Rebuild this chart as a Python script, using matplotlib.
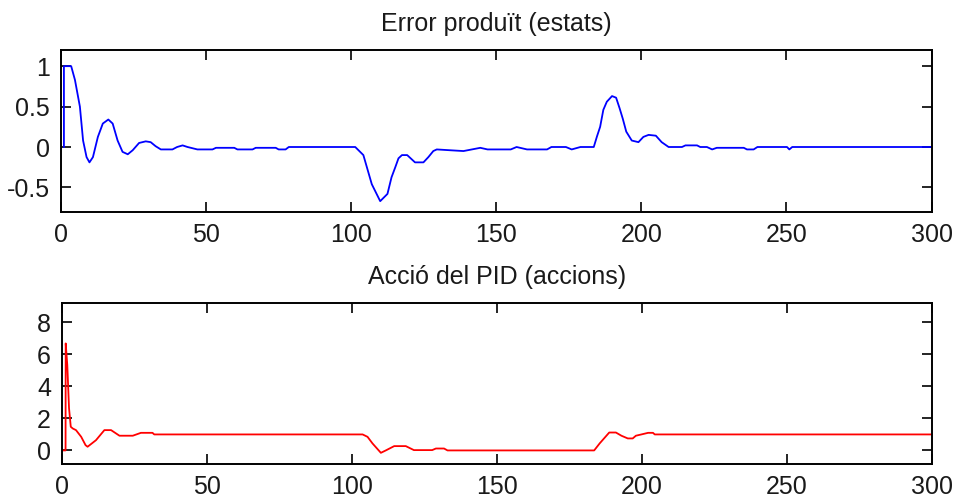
import matplotlib
matplotlib.use("Agg")
import matplotlib.pyplot as plt

plt.rcParams['font.family'] = ['Liberation Sans', 'DejaVu Sans']

# ---- data ----
err_t = [1, 1, 3.5, 4.8, 6.5, 7.6, 8.8, 9.8, 11, 12.7, 14.4, 16.3, 17.8, 19.5, 21.2, 23,
         24.7, 26.9, 29.2, 30.9, 32.6, 34.4, 38.4, 40, 41.9, 43.6, 47, 52.2, 53.4, 59.7,
         60.8, 66, 67.1, 74, 75, 77.4, 78.5, 101.4, 104.2, 107.1, 110, 112.5, 113.9, 115.2,
         116.3, 117.5, 119.3, 120.5, 122, 124.9, 126.6, 128.3, 129.5, 134, 138.7, 144.5,
         147, 155, 157, 160.6, 167.5, 169, 174, 176, 179, 183.6, 184.7, 185.8, 186.9, 188.1,
         189.9, 191.3, 192.5, 193.6, 194.8, 196.7, 199, 200.7, 202.5, 205, 207, 209.4, 214,
         215.2, 219.2, 220.3, 222.6, 224.4, 226, 235.3, 236.4, 238.7, 240, 250.2, 251, 252, 300]
err_v = [0, 1, 1, 0.83, 0.5, 0.08, -0.125, -0.19, -0.125, 0.125, 0.29, 0.34, 0.29, 0.08,
         -0.06, -0.09, -0.04, 0.05, 0.07, 0.06, 0.01, -0.03, -0.03, 0, 0.02, 0, -0.03, -0.03,
         -0.01, -0.01, -0.03, -0.03, -0.01, -0.01, -0.03, -0.03, 0, 0, -0.10, -0.46, -0.67,
         -0.58, -0.375, -0.25, -0.14, -0.10, -0.10, -0.14, -0.19, -0.19, -0.125, -0.05,
         -0.03, -0.04, -0.05, -0.01, -0.03, -0.03, 0, -0.03, -0.03, 0, 0, -0.03, 0, 0, 0.13,
         0.25, 0.46, 0.56, 0.63, 0.61, 0.48, 0.35, 0.19, 0.08, 0.06, 0.125, 0.15, 0.14, 0.06,
         0, 0, 0.02, 0.02, 0, 0, -0.03, -0.01, -0.01, -0.03, -0.03, 0, 0, -0.03, 0, 0]

act_t = [0, 1.2, 1.25, 1.8, 2.4, 3.0, 3.7, 4.8, 6.6, 8.1, 8.8, 11.7, 14.6, 16.9, 19.8, 24.4,
         27.2, 31.2, 31.8, 103.7, 105.4, 107.1, 110, 111.7, 114.6, 118.6, 121.4, 127.7, 129,
         131.8, 133, 183.6, 185.5, 188.8, 191.1, 193, 195.2, 196.9, 198, 199.9, 202.2, 203.9,
         204.5, 300]
act_v = [0, 0, 6.69, 5.34, 2.64, 1.48, 1.37, 1.27, 0.85, 0.33, 0.23, 0.64, 1.27, 1.27, 0.92,
         0.92, 1.1, 1.1, 1.0, 1.0, 0.85, 0.44, -0.15, 0.0, 0.27, 0.27, 0.02, 0.02, 0.12, 0.12,
         0.0, 0.0, 0.44, 1.12, 1.12, 0.92, 0.75, 0.75, 0.92, 1.0, 1.1, 1.1, 1.0, 1.0]

x_ticks = [0, 50, 100, 150, 200, 250, 300]
err_yticks = [-0.5, 0, 0.5, 1]
err_yticklabels = ['-0.5', '0', '0.5', '1']
act_yticks = [0, 2, 4, 6, 8]

titles = ['Error produït (estats)', 'Acció del PID (accions)']

# ---- figure ----
fig = plt.figure(figsize=(9.55, 4.99), dpi=100)
ax1 = fig.add_axes([0.0639, 0.5758, 0.9115, 0.3240])
ax2 = fig.add_axes([0.0650, 0.0701, 0.9104, 0.3221])

ax1.plot(err_t, err_v, color='#0000ff', lw=1.3)
ax2.plot(act_t, act_v, color='#ff0000', lw=1.3)

ax1.set_ylim(-0.8, 1.2)
ax1.set_yticks(err_yticks)
ax1.set_yticklabels(err_yticklabels)
ax2.set_ylim(-0.85, 9.2)
ax2.set_yticks(act_yticks)

for ax, title in zip([ax1, ax2], titles):
    ax.set_xlim(0, 300)
    ax.set_xticks(x_ticks)
    ax.tick_params(direction='in', length=7, width=1.2, top=True, right=True,
                   labelsize=18, pad=8, colors='#000000', labelcolor='#1a1a1a')
    for s in ax.spines.values():
        s.set_linewidth(1.4)
        s.set_color('#000000')
    ax.set_title(title, fontsize=18, pad=14, color='#1a1a1a')

fig.savefig('out.png', dpi=100)
